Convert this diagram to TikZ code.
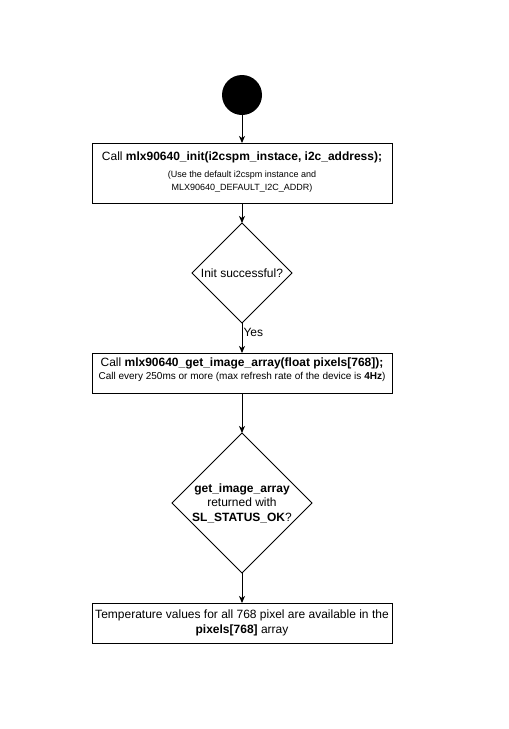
\documentclass[tikz,border=0pt]{standalone}
\usepackage{fontspec}
\setmainfont{Liberation Sans}
\usetikzlibrary{shapes.geometric,arrows.meta}

\tikzset{
  flow/.style={line width=1pt, -{Stealth[length=7pt,width=6pt,inset=2pt]}},
  stepbox/.style={draw, line width=1pt, rectangle, minimum width=300pt,
    inner sep=0pt, outer sep=0pt, align=center},
  decision/.style={draw, line width=1pt, diamond, inner sep=0pt, outer sep=0pt},
  big/.style={font=\fontsize{12}{14.5}\selectfont},
  small/.style={font=\fontsize{9}{13}\selectfont},
  note/.style={font=\fontsize{10}{12}\selectfont},
}

\begin{document}
\begin{tikzpicture}[x=1pt,y=-1pt]
  \useasboundingbox (0,0) rectangle (509,729);

  % start marker
  \node[circle, fill=black, minimum size=40pt, inner sep=0pt] (start) at (242,95) {};

  % initialisation step
  \node[stepbox, minimum height=60pt] (init) at (242,173) {};
  \node[big] at (242,157) {Call \textbf{mlx90640\_init(i2cspm\_instace, i2c\_address);}};
  \node[small, align=center] at (242,181.5) {(Use the default i2cspm instance and\\MLX90640\_DEFAULT\_I2C\_ADDR)};

  % first decision
  \node[decision, minimum width=100pt, minimum height=100pt] (ok) at (242,273) {};
  \node[big] at (242,273) {Init successful?};

  % read step
  \node[stepbox, minimum height=40pt] (read) at (242,373) {};
  \node[big] at (242,363.5) {Call \textbf{mlx90640\_get\_image\_array(float pixels[768]);}};
  \node[note] at (242,376.5) {Call every 250ms or more (max refresh rate of the device is \textbf{4Hz})};

  % second decision
  \node[decision, minimum width=140pt, minimum height=140pt] (status) at (242,503) {};
  \node[big, align=center] at (242,503) {\textbf{get\_image\_array}\\returned with\\\textbf{SL\_STATUS\_OK}?};

  % result
  \node[stepbox, minimum height=40pt, big] (result) at (242,623)
    {Temperature values for all 768 pixel are available in the\\\textbf{pixels[768]} array};

  % connectors
  \draw[flow] (start) -- (init);
  \draw[flow] (init) -- (ok);
  \draw[flow] (ok) -- node[pos=0.33, right, inner sep=1pt, big] {Yes} (read);
  \draw[flow] (read) -- (status);
  \draw[flow] (status) -- (result);
\end{tikzpicture}
\end{document}
